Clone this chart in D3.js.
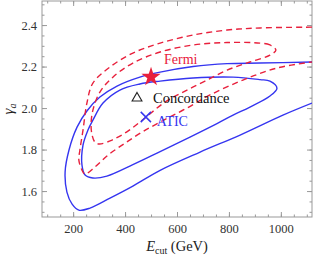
<!DOCTYPE html>
<html lang="en">
<head>
  <meta charset="UTF-8">
  <title>Ecut gamma contours</title>
  <script src="https://cdn.jsdelivr.net/npm/d3@7/dist/d3.min.js"></script>
  <style>
    body { margin: 0; background: #fff; }
    svg text { font-family: "Liberation Serif", "Times New Roman", Times, serif !important; }
  </style>
</head>
<body>
  <script>
    // 坐标轴刻度
    const xTicks = [200, 400, 600, 800, 1000]
    const yTicks = [1.6, 1.8, 2.0, 2.2, 2.4]

    // 等值线 [E_cut, gamma_a]
    const blueOuter = [[1120, 2.222], [920, 2.217], [793, 2.214], [662, 2.20], [535, 2.173], [457, 2.149],
      [369, 2.106], [303, 2.053], [253, 1.986], [215, 1.908], [184, 1.798], [169, 1.692], [176, 1.595],
      [196, 1.537], [222, 1.508], [265, 1.518], [342, 1.566], [430, 1.624], [535, 1.70], [689, 1.788],
      [843, 1.870], [1008, 1.966], [1120, 2.024]]
    const blueInner = [[985, 2.096], [958, 2.130], [920, 2.137], [816, 2.149], [662, 2.145], [535, 2.130],
      [457, 2.116], [380, 2.087], [315, 2.024], [276, 1.942], [257, 1.894], [238, 1.822], [234, 1.725],
      [246, 1.677], [276, 1.663], [330, 1.672], [430, 1.727], [535, 1.790], [650, 1.860], [754, 1.925],
      [816, 1.966], [881, 2.005], [958, 2.058]]
    const redOuter = [[1120, 2.390], [920, 2.386], [793, 2.376], [662, 2.352], [535, 2.313], [430, 2.265],
      [342, 2.198], [276, 2.120], [253, 2.024], [238, 1.894], [226, 1.798], [222, 1.749], [234, 1.701],
      [246, 1.682], [284, 1.716], [334, 1.773], [400, 1.831], [465, 1.884], [542, 1.937], [631, 1.995],
      [727, 2.063], [854, 2.135], [985, 2.193], [1120, 2.222]]
    const redInner = [[981, 2.280], [958, 2.304], [920, 2.313], [793, 2.316], [662, 2.304], [535, 2.270],
      [430, 2.217], [353, 2.149], [303, 2.077], [276, 1.990], [269, 1.918], [273, 1.870], [284, 1.836],
      [300, 1.827], [350, 1.846], [411, 1.889], [481, 1.957], [554, 2.029], [631, 2.082], [708, 2.130],
      [793, 2.183], [881, 2.222], [958, 2.255]]

    // 标记点
    const fermiPoint = [500, 2.15]
    const concordancePoint = [446, 2.048]
    const aticPoint = [480, 1.957]

    const width = 313, height = 257
    const mLeft = 42, mRight = 312, mTop = 1, mBottom = 217

    const x = d3.scaleLinear().domain([80, 1120]).range([mLeft, mRight])
    const y = d3.scaleLinear().domain([1.475, 2.516]).range([mBottom, mTop])

    const svg = d3.select('body').append('svg')
      .attr('width', width)
      .attr('height', height)

    svg.append('defs').append('clipPath').attr('id', 'clip')
      .append('rect').attr('x', mLeft).attr('y', mTop)
      .attr('width', mRight - mLeft).attr('height', mBottom - mTop)

    // 刻度
    const axisColor = '#999'
    function frameAxis(axis, tr, size, values, labels) {
      const g = svg.append('g').attr('transform', tr)
        .call(axis.tickValues(values).tickSize(size).tickPadding(5)
          .tickFormat(labels ? d3.format('.1f') : ''))
      g.attr('font-family', null)
      g.select('.domain').remove()
      g.selectAll('line').attr('stroke', axisColor)
      return g
    }
    const xMinor = d3.range(100, 1101, 50)
    const yMinor = d3.range(1.5, 2.51, 0.05)

    frameAxis(d3.axisBottom(x), `translate(0,${mBottom})`, -2.5, xMinor, false)
    frameAxis(d3.axisTop(x), `translate(0,${mTop})`, -2.5, xMinor, false)
    frameAxis(d3.axisLeft(y), `translate(${mLeft},0)`, -2.5, yMinor, false)
    frameAxis(d3.axisRight(y), `translate(${mRight},0)`, -2.5, yMinor, false)
    frameAxis(d3.axisTop(x), `translate(0,${mTop})`, -5, xTicks, false)
    frameAxis(d3.axisRight(y), `translate(${mRight},0)`, -5, yTicks, false)

    const xAxis = frameAxis(d3.axisBottom(x), `translate(0,${mBottom})`, -5, xTicks, true)
    xAxis.selectAll('text').text(d => d).attr('y', 7)
    const yAxis = frameAxis(d3.axisLeft(y), `translate(${mLeft},0)`, -5, yTicks, true)
    yAxis.selectAll('text').attr('x', -5)
    svg.selectAll('.tick text')
      .attr('font-size', 12.5)
      .attr('fill', '#333')

    svg.append('rect')
      .attr('x', mLeft).attr('y', mTop)
      .attr('width', mRight - mLeft).attr('height', mBottom - mTop)
      .attr('fill', 'none').attr('stroke', axisColor)

    // 等值线
    const openLine = d3.line().x(d => x(d[0])).y(d => y(d[1])).curve(d3.curveCatmullRom)
    const closedLine = d3.line().x(d => x(d[0])).y(d => y(d[1])).curve(d3.curveCatmullRomClosed)
    const plot = svg.append('g').attr('clip-path', 'url(#clip)')
    const blue = '#3535f0', red = '#e8203c'

    plot.append('path').attr('d', openLine(blueOuter))
      .attr('fill', 'none').attr('stroke', blue).attr('stroke-width', 1.4)
    plot.append('path').attr('d', closedLine(blueInner))
      .attr('fill', 'none').attr('stroke', blue).attr('stroke-width', 1.4)
    plot.append('path').attr('d', openLine(redOuter))
      .attr('fill', 'none').attr('stroke', red).attr('stroke-width', 1.4)
      .attr('stroke-dasharray', '6,4')
    plot.append('path').attr('d', closedLine(redInner))
      .attr('fill', 'none').attr('stroke', red).attr('stroke-width', 1.4)
      .attr('stroke-dasharray', '6,4')

    // 标记
    svg.append('path')
      .attr('d', d3.symbol(d3.symbolStar, 115)())
      .attr('transform', `translate(${x(fermiPoint[0])},${y(fermiPoint[1])})`)
      .attr('fill', red)
    svg.append('path')
      .attr('d', d3.symbol(d3.symbolTriangle, 42)())
      .attr('transform', `translate(${x(concordancePoint[0])},${y(concordancePoint[1])})`)
      .attr('fill', 'none').attr('stroke', '#222').attr('stroke-width', 1.1)
    svg.append('path')
      .attr('d', d3.symbol(d3.symbolX, 70)())
      .attr('transform', `translate(${x(aticPoint[0])},${y(aticPoint[1])})`)
      .attr('fill', 'none').attr('stroke', blue).attr('stroke-width', 1.5)

    svg.append('text').attr('x', x(fermiPoint[0]) + 13).attr('y', y(fermiPoint[1]) - 13)
      .attr('font-size', 14).attr('fill', red).text('Fermi')
    svg.append('text').attr('x', x(concordancePoint[0]) + 16).attr('y', y(concordancePoint[1]) + 5)
      .attr('font-size', 14.5).attr('fill', '#111').text('Concordance')
    svg.append('text').attr('x', x(aticPoint[0]) + 11).attr('y', y(aticPoint[1]) + 9)
      .attr('font-size', 14).attr('fill', blue).text('ATIC')

    // 轴标题
    const xt = svg.append('text').attr('x', (mLeft + mRight) / 2).attr('y', 251)
      .attr('text-anchor', 'middle').attr('font-size', 14.5).attr('fill', '#222')
    xt.append('tspan').attr('font-style', 'italic').text('E')
    xt.append('tspan').attr('font-size', 10).attr('dy', 3).text('cut')
    xt.append('tspan').attr('dy', -3).text(' (GeV)')

    const yt = svg.append('text')
      .attr('transform', `translate(13,${(mTop + mBottom) / 2}) rotate(-90)`)
      .attr('text-anchor', 'middle').attr('font-size', 15).attr('fill', '#222')
    yt.append('tspan').attr('font-style', 'italic').text('γ')
    yt.append('tspan').attr('font-style', 'italic').attr('font-size', 10).attr('dy', 3).text('a')
  </script>
</body>
</html>
